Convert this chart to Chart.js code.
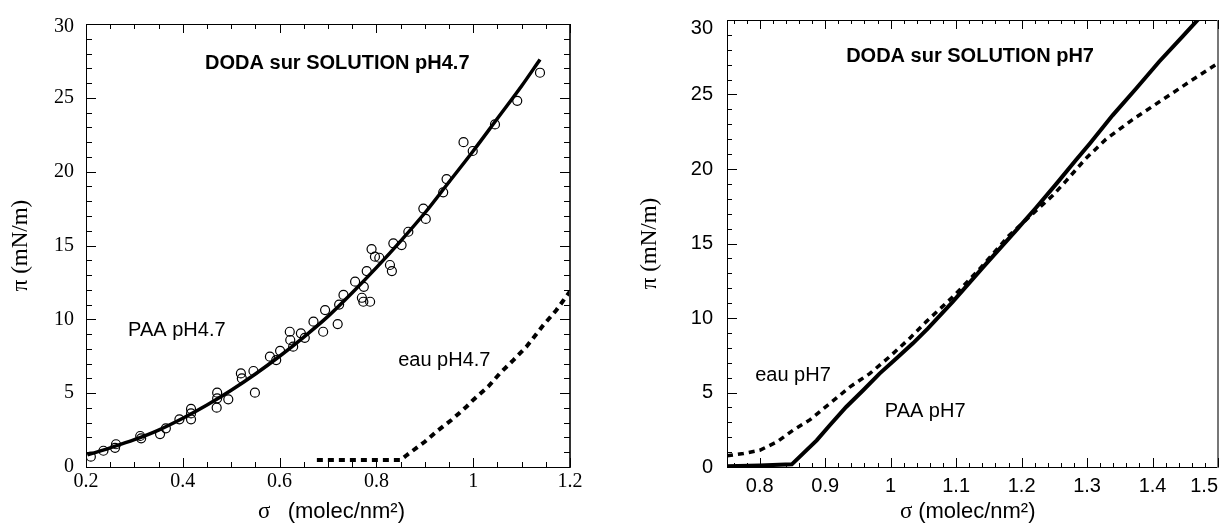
<!DOCTYPE html>
<html><head><meta charset="utf-8">
<script src="https://cdn.jsdelivr.net/npm/chart.js@4.4.0/dist/chart.umd.min.js"></script>
<style>
html,body{margin:0;padding:0;background:#fff;width:1223px;height:524px;overflow:hidden}
#c1{position:absolute;left:0;top:0}
#c2{position:absolute;left:613px;top:0}
</style></head><body>
<canvas id="c1" width="610" height="524"></canvas>
<canvas id="c2" width="610" height="524"></canvas>
<script>
// ---------- DATA (left: pH 4.7) ----------
const paa47PointsX = [0.210,0.236,0.262,0.260,0.312,0.314,0.353,0.365,0.393,0.417,0.417,0.417,0.471,0.471,0.470,0.494,0.520,0.522,0.546,0.549,0.580,0.593,0.601,0.621,0.622,0.628,0.644,0.652,0.670,0.690,0.694,0.720,0.723,0.732,0.756,0.774,0.770,0.787,0.773,0.780,0.790,0.797,0.806,0.828,0.832,0.835,0.852,0.866,0.897,0.902,0.938,0.945,0.980,0.999,1.045,1.091,1.138];
const paa47PointsY = [0.70,1.10,1.54,1.30,2.10,1.94,2.23,2.62,3.23,3.93,3.63,3.23,5.03,4.65,4.02,4.58,6.34,6.00,6.50,5.03,7.47,7.24,7.87,9.16,8.60,8.15,9.05,8.75,9.84,9.16,10.63,9.68,11.0,11.65,12.55,12.20,11.46,11.19,11.19,13.27,14.76,14.24,14.17,13.68,13.27,15.15,15.03,15.93,17.5,16.8,18.6,19.5,22.0,21.4,23.2,24.8,26.7];
const paa47FitX = [0.203,0.25,0.30,0.35,0.40,0.45,0.50,0.55,0.60,0.65,0.70,0.75,0.80,0.85,0.90,0.95,1.00,1.05,1.10,1.138];
const paa47FitY = [0.82,1.3,1.85,2.5,3.3,4.2,5.2,6.3,7.5,8.8,10.2,11.8,13.5,15.3,17.2,19.3,21.4,23.6,25.8,27.6];
const eau47X = [0.677,0.850,0.863,0.900,0.928,0.955,0.986,1.000,1.031,1.055,1.083,1.110,1.145,1.172,1.197,1.200];
const eau47Y = [0.47,0.47,0.81,1.71,2.50,3.18,4.08,4.54,5.44,6.34,7.24,8.15,9.61,10.63,11.76,11.9];
const leftXTicks = [0.2,0.4,0.6,0.8,1,1.2];
const leftYTicks = [0,5,10,15,20,25,30];

// ---------- DATA (right: pH 7) ----------
const paa7X = [0.75,0.80,0.849,0.866,0.887,0.907,0.932,0.958,0.983,1.009,1.034,1.057,1.095,1.143,1.192,1.222,1.253,1.283,1.304,1.339,1.375,1.410,1.446,1.471,1.48];
const paa7Y = [0.05,0.1,0.18,0.9,1.79,2.8,4.03,5.15,6.27,7.3,8.3,9.3,11.1,13.5,15.9,17.4,19.0,20.6,21.7,23.6,25.4,27.2,28.9,30.1,30.5];
const eau7X = [0.75,0.775,0.80,0.826,0.851,0.877,0.907,0.938,0.968,0.998,1.029,1.054,1.095,1.136,1.18,1.222,1.247,1.268,1.298,1.329,1.369,1.415,1.461,1.50];
const eau7Y = [0.75,0.9,1.12,1.68,2.47,3.18,4.26,5.38,6.27,7.39,8.63,9.74,11.42,13.3,15.5,17.2,18.2,19.2,20.7,22.0,23.3,24.64,25.99,27.1];
const rightXTicks = [0.8,0.9,1,1.1,1.2,1.3,1.4,1.5];
const rightYTicks = [0,5,10,15,20,25,30];

// ---------- TEXT ----------
const leftTitle = 'DODA sur SOLUTION pH4.7';
const rightTitle = 'DODA sur SOLUTION pH7';
const yTitleText = 'π (mN/m)';
const xTitleSymbol = 'σ';
const xTitleUnit = '(molec/nm²)';

const SERIF = "'Liberation Serif','Times New Roman',serif";
const SANS = "'Liberation Sans',Arial,Helvetica,sans-serif";

function pts(xs, ys){ return xs.map((x,i)=>({x:x, y:ys[i]})); }

function decoPlugin(o){
  return {
    id:'deco',
    beforeDraw(chart){
      try{
        const sx = chart.scales.x, sy = chart.scales.y;
        if(o.lastXRight){
          const items = sx.getLabelItems(chart.chartArea);
          items[items.length-1].options.textAlign = 'right';
        }
        if(o.topYShift){
          const items = sy.getLabelItems(chart.chartArea);
          let top = items[0];
          items.forEach(it=>{ if(it.options.translation[1] < top.options.translation[1]) top = it; });
          top.options.translation[1] += o.topYShift;
        }
      }catch(e){}
    },
    afterDatasetsDraw(chart){
      const ctx = chart.ctx, sx = chart.scales.x, sy = chart.scales.y;
      ctx.save();
      ctx.fillStyle = '#000';
      ctx.textBaseline = 'middle';
      ctx.textAlign = 'left';
      o.notes.forEach(n=>{
        ctx.font = n.font;
        ctx.fillText(n.text, sx.getPixelForValue(n.x), sy.getPixelForValue(n.y));
      });
      ctx.restore();
    },
    afterDraw(chart){
      const ctx = chart.ctx, ca = chart.chartArea, sx = chart.scales.x, sy = chart.scales.y;
      const L = Math.round(ca.left), R = Math.round(ca.right), T = Math.round(ca.top), B = Math.round(ca.bottom);
      ctx.save();
      ctx.setLineDash([]);
      ctx.fillStyle = '#000';
      // frame
      ctx.fillRect(L, T, 1, B - T + 1);
      ctx.fillRect(L, B, R - L, 1);
      ctx.fillRect(L, T, R - L, 1);
      ctx.fillStyle = o.rightColor;
      ctx.fillRect(R - 1, T, o.rightWidth, B - T + 1);
      ctx.fillStyle = '#000';
      // x ticks (bottom & top, inward)
      const xk0 = Math.ceil(sx.min/o.xMinor - 1e-6), xk1 = Math.floor(sx.max/o.xMinor + 1e-6);
      for(let k=xk0;k<=xk1;k++){
        const v = k*o.xMinor;
        const major = Math.abs(v/o.xMajor - Math.round(v/o.xMajor)) < 1e-6;
        const len = major ? o.majorLen : o.minorLen;
        const px = Math.round(sx.getPixelForValue(v));
        ctx.fillRect(px, B - len, 1, len);
        ctx.fillRect(px, T, 1, len);
      }
      // y ticks (left, and right when asked)
      const yk0 = Math.ceil(sy.min/o.yMinor - 1e-6), yk1 = Math.floor(sy.max/o.yMinor + 1e-6);
      for(let k=yk0;k<=yk1;k++){
        const v = k*o.yMinor;
        const major = Math.abs(v/o.yMajor - Math.round(v/o.yMajor)) < 1e-6;
        const len = major ? o.majorLenY : o.minorLenY;
        const py = Math.round(sy.getPixelForValue(v));
        ctx.fillRect(L, py, len, 1);
        if(o.rightTicks) ctx.fillRect(R - len, py, len, 1);
      }
      // axis titles
      ctx.textBaseline = 'alphabetic';
      ctx.textAlign = 'left';
      let x = ca.left + o.xTitleStart;
      ctx.font = '23px ' + SERIF;
      ctx.fillText(xTitleSymbol + o.xTitleGap, x, 518);
      x += ctx.measureText(xTitleSymbol + o.xTitleGap).width;
      ctx.font = '22px ' + SANS;
      ctx.fillText(xTitleUnit, x, 518);
      ctx.save();
      ctx.translate(o.yTitleX, (ca.top+ca.bottom)/2);
      ctx.rotate(-Math.PI/2);
      ctx.textAlign = 'center'; ctx.textBaseline = 'middle';
      ctx.font = '23px ' + SERIF;
      ctx.fillText(yTitleText, 0, 0);
      ctx.restore();
      ctx.restore();
    }
  };
}

function makeChart(canvas, o){
  return new Chart(canvas, {
    type:'scatter',
    data:{ datasets:o.datasets },
    options:{
      responsive:false, animation:false, devicePixelRatio:1,
      layout:{ padding:o.padding },
      plugins:{ legend:{display:false}, tooltip:{enabled:false}, title:{display:false} },
      scales:{
        x:{
          type:'linear', min:o.xMin, max:o.xMax,
          afterBuildTicks: ax => { ax.ticks = o.xTicks.map(v=>({value:v})); },
          afterFit: ax => { ax.height = o.xH; ax.paddingLeft = 0; ax.paddingRight = 0; },
          grid:{display:false, drawTicks:false}, border:{display:false},
          ticks:{ font:{family:o.tickFamily, size:20}, color:'#000', padding:o.xPad, maxRotation:0, minRotation:0, autoSkip:false, callback:v=>String(v) }
        },
        y:{
          type:'linear', min:0, max:30,
          afterBuildTicks: ax => { ax.ticks = o.yTicks.map(v=>({value:v})); },
          afterFit: ax => { ax.width = o.yW; ax.paddingTop = 0; ax.paddingBottom = 0; },
          grid:{display:false, drawTicks:false}, border:{display:false},
          ticks:{ font:{family:o.tickFamily, size:20}, color:'#000', padding:o.yPad, autoSkip:false, callback:v=>String(v) }
        }
      }
    },
    plugins:[decoPlugin(o)]
  });
}

makeChart(document.getElementById('c1'), {
  padding:{left:0, top:24, right:40, bottom:0},
  xMin:0.2, xMax:1.2, xTicks:leftXTicks, yTicks:leftYTicks,
  xH:57, yW:86, xPad:3, yPad:12, tickFamily:SERIF,
  xMinor:0.05, xMajor:0.2, yMinor:1, yMajor:5,
  majorLen:9, minorLen:5, majorLenY:10, minorLenY:6, rightTicks:true,
  rightColor:'#333', rightWidth:2,
  xTitleStart:172, xTitleGap:'   ', yTitleX:21,
  lastXRight:false, topYShift:3,
  notes:[
    {text:leftTitle, x:0.446, y:27.33, font:'bold 20px '+SANS},
    {text:'PAA pH4.7', x:0.287, y:9.23, font:'20px '+SANS},
    {text:'eau pH4.7', x:0.845, y:7.24, font:'20px '+SANS}
  ],
  datasets:[
    {label:'PAA pH4.7', data:pts(paa47PointsX, paa47PointsY), showLine:false,
     pointRadius:4.5, pointBorderWidth:1.2, pointBorderColor:'#000', pointBackgroundColor:'rgba(0,0,0,0)'},
    {label:'PAA pH4.7 fit', data:pts(paa47FitX, paa47FitY), showLine:true, pointRadius:0,
     borderColor:'#000', borderWidth:3.5, tension:0.4, cubicInterpolationMode:'monotone'},
    {label:'eau pH4.7', data:pts(eau47X, eau47Y), showLine:true, pointRadius:0,
     borderColor:'#000', borderWidth:4, borderDash:[6,5], tension:0}
  ]
});

makeChart(document.getElementById('c2'), {
  padding:{left:0, top:20, right:5, bottom:0},
  xMin:0.75, xMax:1.5, xTicks:rightXTicks, yTicks:rightYTicks,
  xH:57, yW:114, xPad:7, yPad:14, tickFamily:SANS,
  xMinor:0.02, xMajor:0.1, yMinor:1, yMajor:5,
  majorLen:9, minorLen:4, majorLenY:10, minorLenY:5, rightTicks:false,
  rightColor:'#777', rightWidth:2,
  xTitleStart:173, xTitleGap:' ', yTitleX:37,
  lastXRight:true, topYShift:8,
  notes:[
    {text:rightTitle, x:0.932, y:27.55, font:'bold 20px '+SANS},
    {text:'eau pH7', x:0.793, y:6.16, font:'20px '+SANS},
    {text:'PAA pH7', x:0.991, y:3.7, font:'20px '+SANS}
  ],
  datasets:[
    {label:'PAA pH7', data:pts(paa7X, paa7Y), showLine:true, pointRadius:0,
     borderColor:'#000', borderWidth:4, tension:0},
    {label:'eau pH7', data:pts(eau7X, eau7Y), showLine:true, pointRadius:0,
     borderColor:'#000', borderWidth:3.5, borderDash:[6,5], tension:0}
  ]
});
</script>
</body></html>
